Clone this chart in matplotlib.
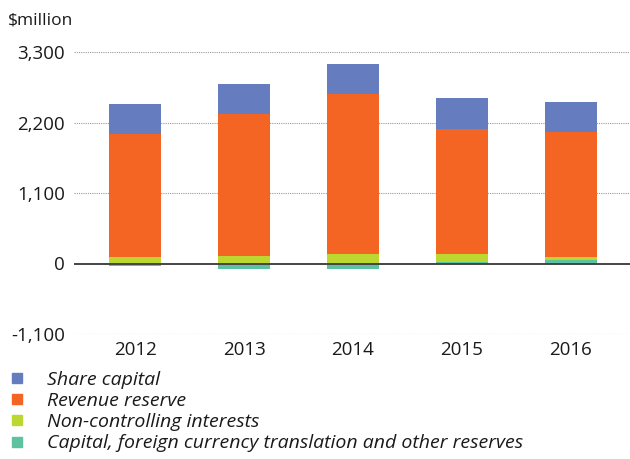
import numpy as np
import matplotlib
matplotlib.use('Agg')
import matplotlib.pyplot as plt
from matplotlib.lines import Line2D

years = ['2012', '2013', '2014', '2015', '2016']
share_capital = [470, 478, 478, 483, 478]
revenue_reserve = [1927, 2212, 2481, 1947, 1952]
non_controlling = [98, 114, 156, 140, 47]
other_reserves = [-42, -93, -93, 16, 47]

labels = ['Share capital', 'Revenue reserve', 'Non-controlling interests',
          'Capital, foreign currency translation and other reserves']
colors = ['#657dbe', '#f46524', '#bdd731', '#5cc2a0']

plt.rcParams['font.family'] = ['Open Sans', 'DejaVu Sans']

fig = plt.figure(figsize=(6.3, 4.59), dpi=100)
ax = fig.add_axes([74 / 630, 1 - 334 / 459, 558 / 630, 282 / 459])

x = np.arange(len(years))
w = 0.48

# stack positives upward from zero, negatives downward
series = [other_reserves, non_controlling, revenue_reserve, share_capital]
cols = [colors[3], colors[2], colors[1], colors[0]]
pos_base = np.zeros(len(years))
neg_base = np.zeros(len(years))
for vals, c in zip(series, cols):
    vals = np.array(vals, dtype=float)
    bottom = np.where(vals >= 0, pos_base, neg_base)
    ax.bar(x, vals, w, bottom=bottom, color=c, zorder=3)
    pos_base = pos_base + np.clip(vals, 0, None)
    neg_base = neg_base + np.clip(vals, None, 0)

ax.set_xlim(-0.56, 4.56)
ax.set_ylim(-1100, 3300)
ax.set_yticks([-1100, 0, 1100, 2200, 3300])
ax.set_yticklabels(['-1,100', '0', '1,100', '2,200', '3,300'])
ax.set_xticks(x)
ax.set_xticklabels(years)
ax.tick_params(axis='both', length=0, labelsize=13.5, colors='#1a1a1a')
ax.tick_params(axis='y', pad=6.5)
ax.tick_params(axis='x', pad=5)

for v in [-1100, 1100, 2200, 3300]:
    ax.axhline(v, color='#999999', lw=0.8, ls=(0, (1, 1)), zorder=1)
ax.axhline(0, color='#444444', lw=1.4, zorder=4)

for s in ax.spines.values():
    s.set_visible(False)

fig.text(8 / 630, 1 - 20 / 459, '$million', fontsize=12.5, color='#1a1a1a',
         va='center', ha='left')

handles = [Line2D([], [], marker='s', ls='', color=c, markersize=6.5) for c in colors]
fig.legend(handles, labels, loc='upper left', bbox_to_anchor=(9.6 / 630, 1 - 371 / 459),
           frameon=False, handlelength=0.8, handletextpad=1.1,
           labelspacing=0.16, borderpad=0, borderaxespad=0,
           prop={'style': 'italic', 'size': 14}, labelcolor='#1a1a1a')

fig.savefig('out.png', dpi=100)
